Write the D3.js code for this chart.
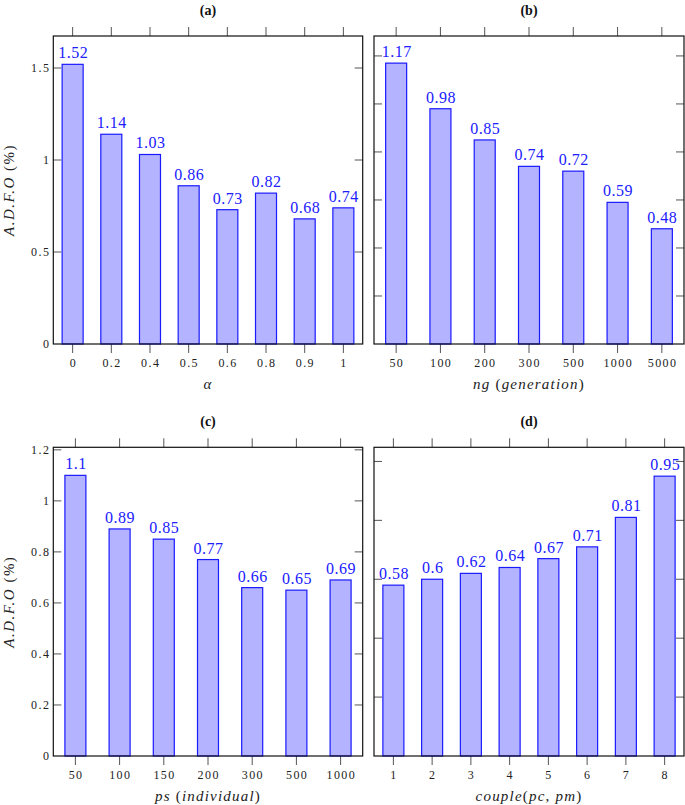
<!DOCTYPE html>
<html><head><meta charset="utf-8">
<script src="https://cdn.jsdelivr.net/npm/d3@7/dist/d3.min.js"></script>
<style>body{margin:0;background:#fff}svg{display:block}</style>
</head><body>
<script>
const catsA = ["0","0.2","0.4","0.5","0.6","0.8","0.9","1"];
const valsA = [1.52,1.14,1.03,0.86,0.73,0.82,0.68,0.74];
const ticksA = [0,0.5,1,1.5];
const catsB = ["50","100","200","300","500","1000","5000"];
const valsB = [1.17,0.98,0.85,0.74,0.72,0.59,0.48];
const ticksB = [0,0.2,0.4,0.6,0.8,1,1.2];
const catsC = ["50","100","150","200","300","500","1000"];
const valsC = [1.1,0.89,0.85,0.77,0.66,0.65,0.69];
const ticksC = [0,0.2,0.4,0.6,0.8,1,1.2];
const catsD = ["1","2","3","4","5","6","7","8"];
const valsD = [0.58,0.6,0.62,0.64,0.67,0.71,0.81,0.95];
const ticksD = [0,0.2,0.4,0.6,0.8,1];

const W=685,H=805;
const svg=d3.select("body").append("svg").attr("width",W).attr("height",H);

const panels=[
 {title:"(a)",cats:catsA,vals:valsA,ticks:ticksA,ymax:1.674,x0:53.3,x1:362.7,y0:36,y1:344,ylab:true,xlab:[["α",true]]},
 {title:"(b)",cats:catsB,vals:valsB,ticks:ticksB,ymax:1.283,x0:374,x1:684,y0:36,y1:344,ylab:false,xlab:[["ng",true],[" (",false],["generation",true],[")",false]]},
 {title:"(c)",cats:catsC,vals:valsC,ticks:ticksC,ymax:1.21,x0:53.3,x1:362.7,y0:447.3,y1:756,ylab:true,xlab:[["ps",true],[" (",false],["individual",true],[")",false]]},
 {title:"(d)",cats:catsD,vals:valsD,ticks:ticksD,ymax:1.048,x0:374,x1:684,y0:447.3,y1:756,ylab:false,xlab:[["couple",true],["(",false],["pc",true],[", ",false],["pm",true],[")",false]]}
];

const tickColor="#555", serif="'Liberation Serif', 'DejaVu Serif', serif";
panels.forEach(p=>{
  const g=svg.append("g");
  const x=d3.scaleBand().domain(p.cats).range([p.x0,p.x1]).padding(0);
  const y=d3.scaleLinear().domain([0,p.ymax]).range([p.y1,p.y0]);
  const bw=21;
  p.cats.forEach(c=>{
    const cx=x(c)+x.bandwidth()/2;
    g.append("line").attr("x1",cx).attr("x2",cx).attr("y1",p.y1).attr("y2",p.y1+9).attr("stroke",tickColor).attr("stroke-width",1);
    g.append("line").attr("x1",cx).attr("x2",cx).attr("y1",p.y0).attr("y2",p.y0-9).attr("stroke",tickColor).attr("stroke-width",1);
    g.append("text").attr("x",cx+0.7).attr("y",p.y1+23).attr("text-anchor","middle")
      .attr("font-family",serif).attr("font-size",12).attr("letter-spacing","1.4px").attr("fill","#222").text(c);
  });
  p.ticks.forEach(t=>{
    const ty=y(t);
    if(t>0){
      g.append("line").attr("x1",p.x0).attr("x2",p.x0+8).attr("y1",ty).attr("y2",ty).attr("stroke",tickColor);
      g.append("line").attr("x1",p.x1).attr("x2",p.x1-8).attr("y1",ty).attr("y2",ty).attr("stroke",tickColor);
    }
    if(p.ylab){
      g.append("text").attr("x",p.x0-3).attr("y",ty+4).attr("text-anchor","end")
       .attr("font-family",serif).attr("font-size",12).attr("letter-spacing","1.4px").attr("fill","#222").text(t);
    }
  });
  p.cats.forEach((c,i)=>{
    const cx=x(c)+x.bandwidth()/2;
    const v=p.vals[i];
    g.append("rect").attr("x",cx-bw/2).attr("y",y(v)).attr("width",bw).attr("height",y(0)-y(v))
      .attr("fill","#b3b3ff").attr("stroke","#1a1aff").attr("stroke-width",1.2);
    g.append("text").attr("x",cx+0.5).attr("y",y(v)-6).attr("text-anchor","middle")
      .attr("font-family",serif).attr("font-size",16).attr("letter-spacing","0.5px").attr("fill","#2020ff").text(v);
  });
  g.append("rect").attr("x",p.x0).attr("y",p.y0).attr("width",p.x1-p.x0).attr("height",p.y1-p.y0)
    .attr("fill","none").attr("stroke","#111").attr("stroke-width",1.2);
  g.append("text").attr("x",(p.x0+p.x1)/2).attr("y",p.y0-21).attr("text-anchor","middle")
    .attr("font-family","'Liberation Serif', serif").attr("font-weight","bold").attr("font-size",14).attr("fill","#111").text(p.title);
  const xl=g.append("text").attr("x",(p.x0+p.x1)/2).attr("y",p.y1+45).attr("text-anchor","middle")
    .attr("font-family",serif).attr("font-size",15).attr("letter-spacing","1.2px").attr("fill","#222");
  p.xlab.forEach(([s,it])=>xl.append("tspan").attr("font-style",it?"italic":"normal").text(s));
  if(p.ylab){
    const cy=(p.y0+p.y1)/2;
    const yl=g.append("text").attr("transform",`translate(14,${cy}) rotate(-90)`).attr("text-anchor","middle")
      .attr("font-family",serif).attr("font-size",15).attr("letter-spacing","1.5px").attr("fill","#222");
    yl.append("tspan").attr("font-style","italic").text("A.D.F.O");
    yl.append("tspan").text(" (%)");
  }
});
</script>
</body></html>
